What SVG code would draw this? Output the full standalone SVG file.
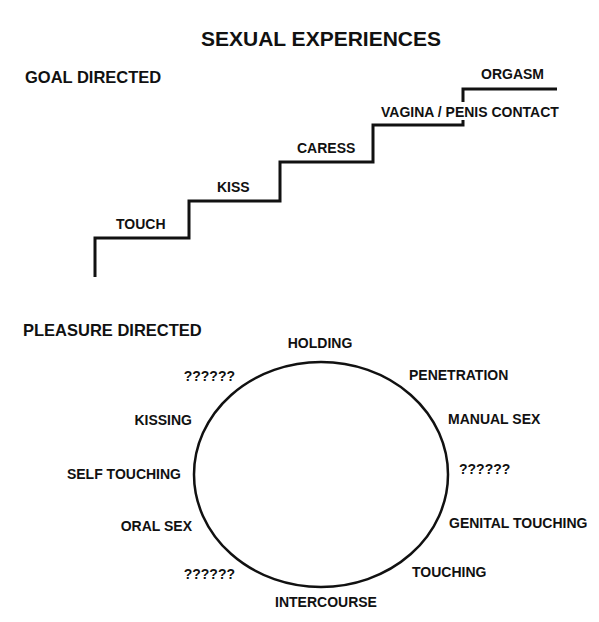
<svg xmlns="http://www.w3.org/2000/svg" width="599" height="622" viewBox="0 0 599 622">
<style>
text{font-family:"Liberation Sans",Arial,Helvetica,sans-serif;font-weight:bold;fill:#111;font-size:14px}
.title{font-size:21px}
.head{font-size:16.5px}
.line{fill:none;stroke:#111;stroke-width:3;stroke-linejoin:miter;stroke-linecap:butt}
.ring{fill:none;stroke:#111;stroke-width:2.5}
</style>
<rect width="599" height="622" fill="#fff"/>
<text id="title" class="title" x="321" y="46" text-anchor="middle">SEXUAL EXPERIENCES</text>
<text id="goal-directed" class="head" x="25" y="83">GOAL DIRECTED</text>
<g id="connectors">
<path class="line" d="M95,277 V238 H189 V201 H280 V162 H373 V125 H463 V120"/>
<path class="line" d="M463,102 V89 H557"/>
</g>
<g id="touch"><text x="116" y="229">TOUCH</text></g>
<g id="kiss"><text x="217" y="192">KISS</text></g>
<g id="caress"><text x="297" y="153">CARESS</text></g>
<g id="vp-contact"><text x="381" y="117">VAGINA / PENIS CONTACT</text></g>
<g id="orgasm"><text x="481" y="79">ORGASM</text></g>
<text id="pleasure-directed" class="head" x="23" y="336">PLEASURE DIRECTED</text>
<g id="circle"><ellipse class="ring" cx="321" cy="474.5" rx="127" ry="112.5"/></g>
<g id="holding"><text x="320" y="348" text-anchor="middle">HOLDING</text></g>
<g id="penetration"><text x="409" y="380">PENETRATION</text></g>
<g id="manual-sex"><text x="448" y="424">MANUAL SEX</text></g>
<g id="q-right"><text x="459" y="474">??????</text></g>
<g id="genital-touching"><text x="449" y="528">GENITAL TOUCHING</text></g>
<g id="touching"><text x="412" y="577">TOUCHING</text></g>
<g id="intercourse"><text x="326" y="607" text-anchor="middle">INTERCOURSE</text></g>
<g id="q-bottom-left"><text x="235" y="579" text-anchor="end">??????</text></g>
<g id="oral-sex"><text x="192" y="531" text-anchor="end">ORAL SEX</text></g>
<g id="self-touching"><text x="181" y="479" text-anchor="end">SELF TOUCHING</text></g>
<g id="kissing"><text x="192" y="425" text-anchor="end">KISSING</text></g>
<g id="q-top-left"><text x="235" y="381" text-anchor="end">??????</text></g>
</svg>
